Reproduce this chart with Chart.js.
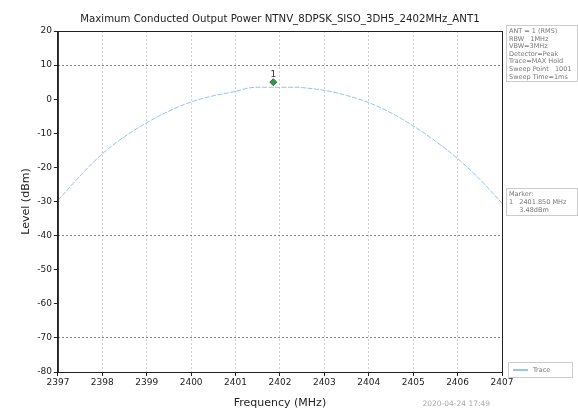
<!DOCTYPE html>
<html>
<head>
<meta charset="utf-8">
<script src="https://cdn.jsdelivr.net/npm/chart.js@4"></script>
<style>
  html, body { margin: 0; padding: 0; background: #fff; }
  #wrap { position: relative; width: 578px; height: 412px; }
</style>
</head>
<body>
<div id="wrap"><canvas id="powerChart" width="578" height="412"></canvas></div>
<script>
// Trace values
const freqs  = [2397, 2397.5, 2398, 2398.5, 2399, 2399.5, 2400, 2400.5, 2401, 2401.3, 2401.5, 2402, 2402.4, 2402.5, 2403, 2403.5, 2404, 2404.5, 2405, 2405.5, 2406, 2406.5, 2407];
const levels = [-29.7, -22.5, -16.0, -11.0, -6.9, -3.5, -0.8, 1.0, 2.3, 3.3, 3.5, 3.5, 3.5, 3.4, 2.6, 1.1, -1.0, -4.0, -7.8, -12.3, -17.4, -23.5, -30.5];

// Marker 1
const markerFreq = [2401.85];
const markerLevel = [5.0];

const yTicks = [20, 10, 0, -10, -20, -30, -40, -50, -60, -70, -80];
const darkGridLines = [10, -40, -70];

const chartTitle = 'Maximum Conducted Output Power NTNV_8DPSK_SISO_3DH5_2402MHz_ANT1';
const infoLines = ['ANT = 1 (RMS)', 'RBW   1MHz', 'VBW=3MHz', 'Detector=Peak', 'Trace=MAX Hold', 'Sweep Point   1001', 'Sweep Time=1ms'];
const markerLines = ['Marker:', '1   2401.850 MHz', '     3.48dBm'];
const stamp = '2020-04-24 17:49';

const sidePanels = {
  id: 'sidePanels',
  afterDraw(chart) {
    const ctx = chart.ctx;
    const a = chart.chartArea;
    ctx.save();
    // frame
    ctx.strokeStyle = '#222';
    ctx.lineWidth = 1;
    ctx.strokeRect(a.left + 0.5, a.top + 0.5, a.right - a.left, a.bottom - a.top);

    // title centred over the plot
    ctx.fillStyle = '#222';
    ctx.font = '10.2px "DejaVu Sans"';
    ctx.textAlign = 'center';
    ctx.textBaseline = 'middle';
    ctx.fillText(chartTitle, (a.left + a.right) / 2, 19);

    // marker label "1"
    const xs = chart.scales.x, ys = chart.scales.y;
    const mx = xs.getPixelForValue(markerFreq[0]);
    const my = ys.getPixelForValue(markerLevel[0]);
    ctx.fillStyle = '#333';
    ctx.font = '9px "DejaVu Sans"';
    ctx.textBaseline = 'bottom';
    ctx.fillText('1', mx, my - 3);

    // info boxes
    ctx.textAlign = 'left';
    ctx.textBaseline = 'top';
    ctx.font = '6.5px "DejaVu Sans"';
    function box(x, y, w, h, lines, lh) {
      ctx.fillStyle = '#fff';
      ctx.fillRect(x, y, w, h);
      ctx.strokeStyle = '#ccc';
      ctx.strokeRect(x + 0.5, y + 0.5, w, h);
      ctx.fillStyle = '#777';
      lines.forEach((t, i) => ctx.fillText(t, x + 3, y + 3 + i * lh));
    }
    box(a.right + 4, a.top - 6, 71, 56, infoLines, 7.6);
    box(a.right + 4, 188, 71, 27, markerLines, 7.8);

    // legend
    ctx.fillStyle = '#fff';
    ctx.fillRect(a.right + 6, 362, 64, 15);
    ctx.strokeStyle = '#ccc';
    ctx.strokeRect(a.right + 6.5, 362.5, 64, 15);
    ctx.strokeStyle = '#5a9fdc';
    ctx.lineWidth = 1.2;
    ctx.beginPath();
    ctx.moveTo(a.right + 11, 370);
    ctx.lineTo(a.right + 26, 370);
    ctx.stroke();
    ctx.fillStyle = '#777';
    ctx.textBaseline = 'middle';
    ctx.fillText('Trace', a.right + 31, 370);

    // timestamp
    ctx.fillStyle = '#aaa';
    ctx.font = '7.5px "DejaVu Sans"';
    ctx.textAlign = 'right';
    ctx.fillText(stamp, 490, 404);
    ctx.restore();
  }
};

new Chart(document.getElementById('powerChart'), {
  type: 'scatter',
  data: {
    datasets: [{
      label: 'Trace',
      data: freqs.map((f, i) => ({ x: f, y: levels[i] })),
      showLine: true,
      borderColor: 'rgba(110, 175, 235, 0.75)',
      borderWidth: 1,
      borderDash: [5, 1.5],
      pointRadius: 0,
      cubicInterpolationMode: 'monotone'
    }, {
      label: 'Marker',
      data: markerFreq.map((f, i) => ({ x: f, y: markerLevel[i] })),
      pointStyle: 'rectRot',
      pointRadius: 3.5,
      backgroundColor: '#2e9a46',
      borderColor: '#1f7a33',
      borderWidth: 1
    }]
  },
  options: {
    responsive: false,
    animation: false,
    layout: { padding: { left: 20, right: 76, top: 31, bottom: 2 } },
    plugins: {
      legend: { display: false },
      tooltip: { enabled: false },
      title: { display: false }
    },
    scales: {
      x: {
        type: 'linear',
        min: 2397,
        max: 2407,
        ticks: {
          stepSize: 1,
          color: '#222',
          font: { family: 'DejaVu Sans', size: 9 },
          padding: 1,
          callback: v => String(v)
        },
        grid: {
          color: 'rgba(170, 170, 170, 0.55)',
          tickColor: '#222',
          tickLength: 4,
          lineWidth: 1
        },
        border: { color: '#222', dash: [2, 2] },
        title: {
          display: true,
          text: 'Frequency (MHz)',
          color: '#222',
          font: { family: 'DejaVu Sans', size: 11 },
          padding: { top: 8, bottom: 0 }
        }
      },
      y: {
        min: -80,
        max: 20,
        afterBuildTicks: axis => { axis.ticks = yTicks.map(v => ({ value: v })); },
        ticks: {
          color: '#222',
          font: { family: 'DejaVu Sans', size: 9 },
          padding: 2
        },
        grid: {
          color: ctx => darkGridLines.includes(ctx.tick && ctx.tick.value) ? 'rgba(120, 120, 120, 0.9)' : 'rgba(0,0,0,0)',
          tickColor: '#222',
          tickLength: 4,
          lineWidth: 1
        },
        border: { color: '#222', dash: [2, 2] },
        title: {
          display: true,
          text: 'Level (dBm)',
          color: '#222',
          font: { family: 'DejaVu Sans', size: 11 },
          padding: { top: 0, bottom: 2 }
        }
      }
    }
  },
  plugins: [sidePanels]
});
</script>
</body>
</html>
